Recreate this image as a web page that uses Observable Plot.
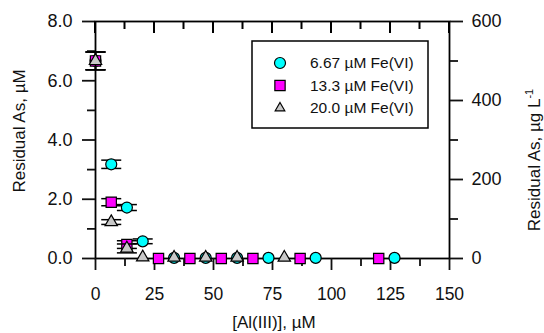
<!DOCTYPE html>
<html>
<head>
<meta charset="utf-8">
<script src="https://cdn.jsdelivr.net/npm/d3@7"></script>
<script src="https://cdn.jsdelivr.net/npm/@observablehq/plot@0.6"></script>
<style>
  html, body { margin: 0; padding: 0; background: #fff; }
  #chart { width: 544px; height: 333px; position: relative; }
  svg { font-family: "Liberation Sans", Arial, sans-serif; }
</style>
</head>
<body>
<div id="chart"></div>
<script>
// ---- data ----
const seriesNames = ["6.67 \u00b5M Fe(VI)", "13.3 \u00b5M Fe(VI)", "20.0 \u00b5M Fe(VI)"];
const seriesColors = ["#00ffff", "#ff00ff", "#c8c8c8"];
const seriesSymbols = ["circle", "square", "triangle"];

const al6 = [0, 6.67, 13.3, 20.0, 33.3, 46.7, 60.0, 73.3, 93.3, 126.7];
const as6 = [6.67, 3.18, 1.72, 0.58, 0.02, 0.02, 0.02, 0.02, 0.02, 0.02];
const err6 = [0.30, 0.14, 0.10, 0.08, 0, 0, 0, 0, 0, 0];

const al13 = [0, 6.67, 13.3, 26.7, 40.0, 53.3, 66.7, 86.7, 120.0];
const as13 = [6.67, 1.90, 0.47, 0.0, 0.0, 0.0, 0.0, 0.0, 0.0];
const err13 = [0.30, 0.12, 0.13, 0, 0, 0, 0, 0, 0];

const al20 = [0, 6.67, 13.3, 20.0, 33.3, 46.7, 60.0, 80.0];
const as20 = [6.67, 1.23, 0.34, 0.04, 0.03, 0.03, 0.03, 0.03];
const err20 = [0.30, 0.08, 0.15, 0, 0, 0, 0, 0];

const xMajorTicks = [0, 25, 50, 75, 100, 125, 150];
const xMinorTicks = [12.5, 37.5, 62.5, 87.5, 112.5, 137.5];
const yMajorTicks = [0, 2, 4, 6, 8];
const yMinorTicks = [1, 3, 5, 7];
const rightMajorTicks = [0, 200, 400, 600];   // µg/L
const rightMinorTicks = [100, 300, 500];
const ugPerUM = 75; // 600 µg/L ↔ 8 µM (As 74.92 g/mol)

// ---- build table ----
function rows(al, as, err, k) {
  return al.map((x, i) => ({x, y: as[i], err: err[i], k}));
}
const sets = [rows(al6, as6, err6, 0), rows(al13, as13, err13, 1), rows(al20, as20, err20, 2)];

const cap = {
  draw(ctx, size) {
    const w = Math.sqrt(size / Math.PI);
    ctx.moveTo(-w, 0); ctx.lineTo(w, 0);
  }
};

const W = 544, H = 333, mL = 95, mR = 95, mT = 21, mB = 75;
const lw = 1.8;
const marks = [
  Plot.frame({stroke: "black", strokeWidth: lw}),
  Plot.axisY({ticks: yMajorTicks, tickFormat: d3.format(".1f"), tickSize: 13, tickPadding: 10, fontSize: 18, label: null, strokeWidth: lw}),
  Plot.axisY({ticks: yMinorTicks, text: null, tickSize: 8, label: null, strokeWidth: lw}),
  Plot.axisY({anchor: "right", ticks: rightMajorTicks.map(v => v / ugPerUM), tickFormat: v => String(Math.round(v * ugPerUM)), tickSize: 13, tickPadding: 9, fontSize: 18, label: null, strokeWidth: lw}),
  Plot.axisY({anchor: "right", ticks: rightMinorTicks.map(v => v / ugPerUM), text: null, tickSize: 8, label: null, strokeWidth: lw}),
  Plot.axisX({ticks: xMajorTicks, tickSize: 12, tickPadding: 17, fontSize: 17.5, label: null, strokeWidth: lw}),
  Plot.axisX({ticks: xMinorTicks, text: null, tickSize: 8, label: null, strokeWidth: lw})
];

sets.forEach((data, k) => {
  const withErr = data.filter(d => d.err > 0);
  marks.push(
    Plot.ruleX(withErr, {x: "x", y1: d => d.y - d.err, y2: d => d.y + d.err, stroke: "black", strokeWidth: 1.5}),
    Plot.dot(withErr, {x: "x", y: d => d.y + d.err, symbol: cap, r: 10, stroke: "black", strokeWidth: 1.5}),
    Plot.dot(withErr, {x: "x", y: d => d.y - d.err, symbol: cap, r: 10, stroke: "black", strokeWidth: 1.5}),
    Plot.dot(data, {x: "x", y: "y", symbol: seriesSymbols[k], r: k === 2 ? 4.6 : (k === 1 ? 5.8 : 5.5), fill: seriesColors[k], stroke: "black", strokeWidth: 1.2})
  );
});

const svg = Plot.plot({
  width: W,
  height: H,
  marginLeft: mL,
  marginRight: mR,
  marginTop: mT,
  marginBottom: mB,
  x: {domain: [0, 150]},
  y: {domain: [0, 8]},
  style: {fontFamily: "'Liberation Sans', Arial, sans-serif", color: "#111", background: "white"},
  marks
});

const s = d3.select(svg);
const xs = svg.scale("x");
const ys = svg.scale("y");
const yTop = ys.apply(8);
// inward ticks along the top edge, positioned with Plot's x scale
const tg = s.append("g").attr("stroke", "black").attr("stroke-width", 2);
xMajorTicks.forEach(v => tg.append("line")
  .attr("x1", xs.apply(v)).attr("x2", xs.apply(v)).attr("y1", yTop).attr("y2", yTop + 12));
xMinorTicks.forEach(v => tg.append("line")
  .attr("x1", xs.apply(v)).attr("x2", xs.apply(v)).attr("y1", yTop).attr("y2", yTop + 8));

// axis titles
s.append("text")
  .attr("transform", "translate(25,131) rotate(-90)")
  .attr("text-anchor", "middle")
  .attr("font-size", 17).attr("fill", "#111")
  .text("Residual As, \u00b5M");
const rt = s.append("text")
  .attr("transform", "translate(540,160) rotate(-90)")
  .attr("text-anchor", "middle")
  .attr("font-size", 17).attr("fill", "#111");
rt.append("tspan").text("Residual As, \u00b5g L");
rt.append("tspan").attr("font-size", 11).attr("dy", -7).text("-1");
s.append("text")
  .attr("x", 274).attr("y", 328)
  .attr("text-anchor", "middle")
  .attr("font-size", 17).attr("fill", "#111")
  .text("[Al(III)], \u00b5M");

// legend
const lg = s.append("g");
lg.append("rect").attr("x", 252).attr("y", 41).attr("width", 176).attr("height", 87)
  .attr("fill", "white").attr("stroke", "black").attr("stroke-width", 1.5);
const symMap = {circle: d3.symbolCircle, square: d3.symbolSquare, triangle: d3.symbolTriangle2};
seriesNames.forEach((name, k) => {
  const cy = 63 + k * 22.5;
  const r = k === 2 ? 4.6 : (k === 1 ? 5.8 : 5.5);
  lg.append("path")
    .attr("d", d3.symbol(symMap[seriesSymbols[k]], r * r * Math.PI)())
    .attr("transform", `translate(280,${cy})`)
    .attr("fill", seriesColors[k]).attr("stroke", "black").attr("stroke-width", 1.2);
  lg.append("text").attr("x", 310).attr("y", cy).attr("dy", "0.35em")
    .attr("text-anchor", "start")
    .attr("font-size", 15.5).attr("fill", "#111").text(name);
});

document.getElementById("chart").appendChild(svg);
</script>
</body>
</html>
